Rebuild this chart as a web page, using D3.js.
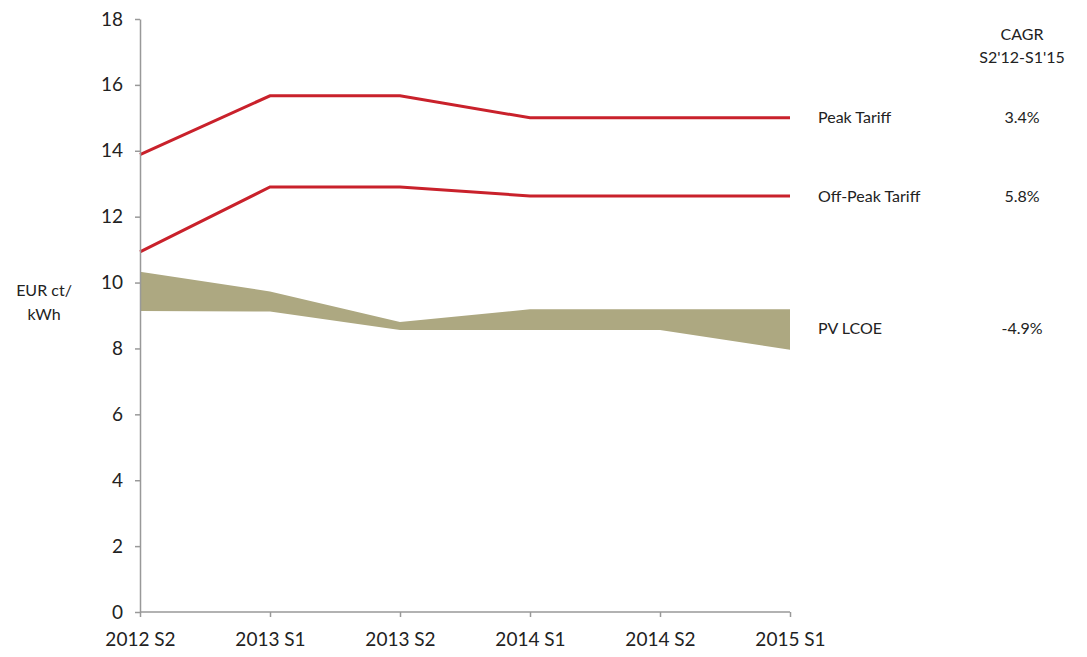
<!DOCTYPE html>
<html>
<head>
<meta charset="utf-8">
<script src="https://cdn.jsdelivr.net/npm/d3@7"></script>
<style>
  body { margin: 0; background: #fff; }
  svg text { font-family: "Lato", "DejaVu Sans", sans-serif; fill: #222; }
</style>
</head>
<body>
<svg id="chart"></svg>
<script>
// categories and values
var periods = ["2012 S2", "2013 S1", "2013 S2", "2014 S1", "2014 S2", "2015 S1"];
var peakTariff = [13.88, 15.67, 15.67, 15.0, 15.0, 15.0];
var offPeakTariff = [10.93, 12.9, 12.9, 12.63, 12.63, 12.63];
var pvLow = [9.14, 9.12, 8.56, 8.56, 8.56, 7.96];
var pvHigh = [10.33, 9.73, 8.8, 9.19, 9.19, 9.19];
var yTicks = [0, 2, 4, 6, 8, 10, 12, 14, 16, 18];
var seriesNames = ["Peak Tariff", "Off-Peak Tariff", "PV LCOE"];
var cagr = ["3.4%", "5.8%", "-4.9%"];

var W = 1087, H = 657;
var margin = { top: 19, left: 140, right: 297, bottom: 45 };

var svg = d3.select("#chart").attr("width", W).attr("height", H);
var g = svg.append("g").attr("transform", "translate(" + margin.left + "," + margin.top + ")");
var width = W - margin.left - margin.right,
    height = H - margin.top - margin.bottom;

var x = d3.scalePoint().domain(periods).range([0, width]);
var y = d3.scaleLinear().domain([0, 18]).range([height, 0]);

// PV band
var area = d3.area()
    .x(function (d, i) { return x(periods[i]); })
    .y0(function (d, i) { return y(pvLow[i]); })
    .y1(function (d) { return y(d); });
g.append("path").datum(pvHigh)
    .attr("d", area)
    .attr("fill", "#ada881");

// tariff lines
var line = d3.line()
    .x(function (d, i) { return x(periods[i]); })
    .y(function (d) { return y(d); });
[peakTariff, offPeakTariff].forEach(function (s) {
    g.append("path").datum(s)
        .attr("d", line)
        .attr("fill", "none")
        .attr("stroke", "#c9212b")
        .attr("stroke-width", 3);
});

// axes
var axisY = g.append("g").call(d3.axisLeft(y).tickValues(yTicks).tickSize(5).tickSizeOuter(0).tickPadding(12));
var axisX = g.append("g").attr("transform", "translate(0," + height + ")")
    .call(d3.axisBottom(x).tickSize(5).tickSizeOuter(0).tickPadding(8));
[axisY, axisX].forEach(function (a) {
    a.selectAll("path, line").attr("stroke", "#999").attr("stroke-width", 1.5);
    a.selectAll("text").attr("font-size", 19).attr("fill", "#222")
        .style("font-family", "Lato, 'DejaVu Sans', sans-serif");
});
axisX.select(".domain").attr("d", "M0,0H" + width);
axisX.selectAll(".tick text").attr("dy", "1.1em");

// y axis title
var yt = svg.append("text").attr("font-size", 16).attr("text-anchor", "middle");
yt.append("tspan").attr("x", 44).attr("y", 296).text("EUR ct/");
yt.append("tspan").attr("x", 44).attr("y", 320).text("kWh");

// series labels and CAGR column
var labelY = [y(15.0), y(12.63), y(8.6)];
seriesNames.forEach(function (n, i) {
    svg.append("text")
        .attr("x", margin.left + width + 28)
        .attr("y", margin.top + labelY[i])
        .attr("dy", "0.35em")
        .attr("font-size", 16)
        .text(n);
    svg.append("text")
        .attr("x", 1022)
        .attr("y", margin.top + labelY[i])
        .attr("dy", "0.35em")
        .attr("text-anchor", "middle")
        .attr("font-size", 16)
        .text(cagr[i]);
});
svg.append("text").attr("x", 1022).attr("y", 40).attr("text-anchor", "middle")
    .attr("font-size", 16).text("CAGR");
svg.append("text").attr("x", 1022).attr("y", 63).attr("text-anchor", "middle")
    .attr("font-size", 16).text("S2'12-S1'15");
</script>
</body>
</html>
